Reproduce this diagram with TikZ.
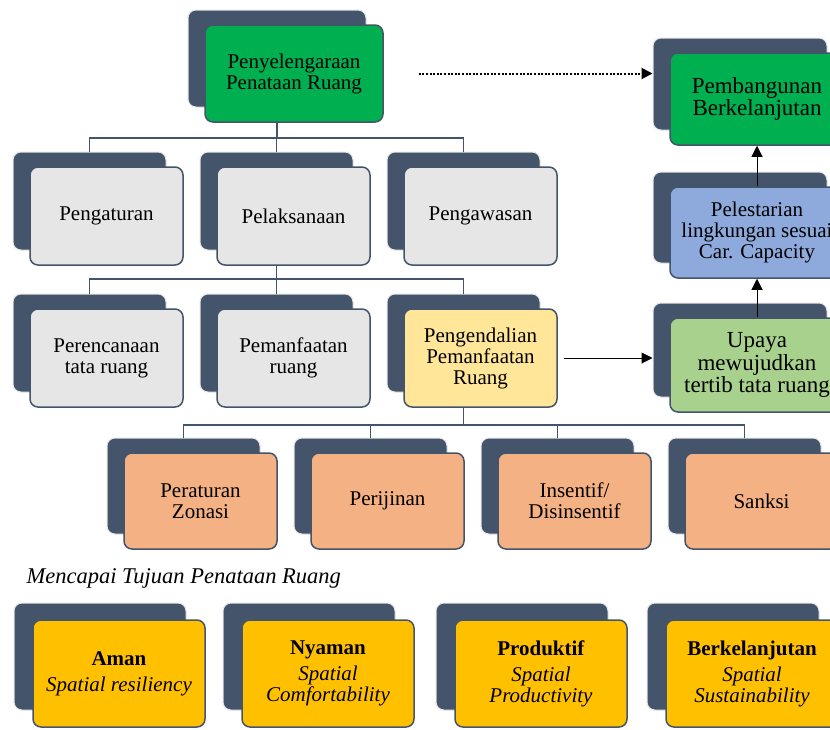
\documentclass[tikz,border=0pt]{standalone}
\usepackage{fontspec}
\setmainfont{Liberation Serif}
\usepackage{tikz}
\usetikzlibrary{arrows.meta}

\definecolor{slate}{HTML}{44546A}
\definecolor{grn}{HTML}{00B050}
\definecolor{lgray}{HTML}{E7E6E6}
\definecolor{lblue}{HTML}{8EA9DB}
\definecolor{lgreen}{HTML}{A9D18E}
\definecolor{lyellow}{HTML}{FFE699}
\definecolor{salmon}{HTML}{F4B183}
\definecolor{gold}{HTML}{FFC000}

\newcommand\sx{17}
\newcommand\sy{15}
% name, x, y, style, text
\newcommand\cardnode[5]{%
  \node[#4,back] (#1-s) at (#2-\sx,#3-\sy) {};
  \node[card,#4] (#1) at (#2,#3) {#5};
}

\begin{document}
\begin{tikzpicture}[x=1pt,y=-1pt,
    >={Triangle[length=11pt,width=11pt]},
    back/.style={fill=slate,draw=black!10,line width=1pt,rounded corners=8pt},
    card/.style={draw=slate,line width=1.5pt,rounded corners=8pt,align=center,
      inner sep=2pt,font=\fontsize{21}{21}\selectfont},
    mid/.style={minimum width=153pt,minimum height=98pt,fill=lgray},
    low/.style={minimum width=153pt,minimum height=96pt,fill=salmon},
    side/.style={minimum width=174pt,minimum height=92pt},
    goal/.style={minimum width=172pt,minimum height=107pt,fill=gold},
    link/.style={draw=slate,line width=1.8pt},
    arr/.style={->,line width=1pt}
  ]
    \useasboundingbox (0,0) rectangle (830,729);

    \cardnode{top}{294}{73.5}{minimum width=178pt,minimum height=97pt,fill=grn}{Penyelengaraan\\Penataan Ruang}

    \cardnode{peng}{106.5}{216}{mid}{Pengaturan}
    \cardnode{pela}{293.5}{216}{mid}{Pelaksanaan}
    \cardnode{pengw}{480.5}{216}{mid}{Pengawasan}

    \cardnode{renc}{106.5}{358}{mid}{Perencanaan\\tata ruang}
    \cardnode{manf}{293.5}{358}{mid}{Pemanfaatan\\ruang}
    \cardnode{kend}{480.5}{358}{mid,fill=lyellow}{Pengendalian\\Pemanfaatan\\Ruang}

    \cardnode{zon}{200.5}{501}{low}{Peraturan\\Zonasi}
    \cardnode{ijin}{387.5}{501}{low}{Perijinan}
    \cardnode{ins}{574.5}{501}{low}{Insentif/\\Disinsentif}
    \cardnode{sank}{761.5}{501}{low}{Sanksi}

    \cardnode{pb}{757}{99}{side,fill=grn,font=\fontsize{23}{22}\selectfont}{Pembangunan\\Berkelanjutan}
    \cardnode{pl}{757}{232.5}{side,minimum height=91pt,fill=lblue}{Pelestarian\\lingkungan sesuai\\Car. Capacity}
    \cardnode{up}{757}{365}{side,minimum height=94pt,fill=lgreen,font=\fontsize{23}{22.5}\selectfont}{Upaya\\mewujudkan\\tertib tata ruang}

    \node[anchor=west,font=\fontsize{22.5}{22.5}\selectfont\itshape] (aim) at (23,578) {Mencapai Tujuan Penataan Ruang};

    \renewcommand\sx{19}
    \renewcommand\sy{17}
    \cardnode{aman}{119}{673.5}{goal}{\textbf{Aman}\\[5pt]\textit{Spatial resiliency}}
    \cardnode{nyam}{328}{673.5}{goal}{\textbf{Nyaman}\\[5pt]\textit{Spatial}\\\textit{Comfortability}}
    \cardnode{prod}{541}{673.5}{goal}{\textbf{Produktif}\\[5pt]\textit{Spatial}\\\textit{Productivity}}
    \cardnode{lanj}{752}{673.5}{goal}{\textbf{Berkelanjutan}\\[5pt]\textit{Spatial}\\\textit{Sustainability}}

    \foreach \c in {peng,pela,pengw}
      \draw[link] (top.south -| top-s.south) -- ++(0,15) -| (\c-s.north);
    \foreach \c in {renc,manf,kend}
      \draw[link] (pela.south -| pela-s.south) -- ++(0,13) -| (\c-s.north);
    \foreach \c in {zon,ijin,ins,sank}
      \draw[link] (kend.south -| kend-s.south) -- ++(0,17) -| (\c-s.north);

    \draw[arr,dash pattern=on 2pt off 1.6pt,line width=2pt] ([xshift=35pt]top.east) -- (top.east -| pb-s.west);
    \draw[arr] ([xshift=6pt]kend.east) -- (kend.east -| up-s.west);
    \draw[arr] (pl.north) -- (pb.south);
    \draw[arr] (up.north) -- (pl.south);
\end{tikzpicture}
\end{document}
